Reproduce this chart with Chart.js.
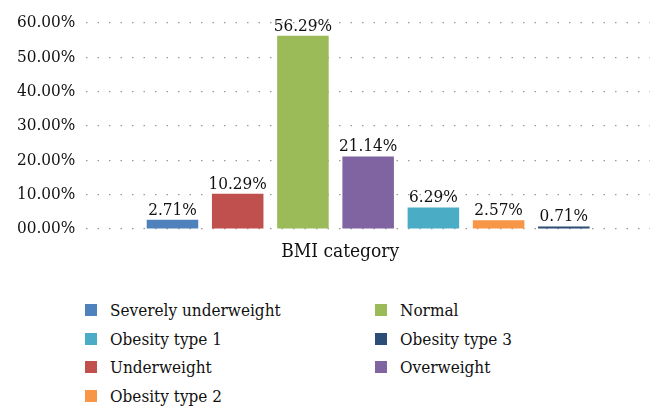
<!DOCTYPE html>
<html>
<head>
<meta charset="utf-8">
<script src="https://cdn.jsdelivr.net/npm/chart.js@4/dist/chart.umd.min.js"></script>
<style>
    body { margin: 0; background: #fff; }
    #wrap { position: relative; width: 656px; height: 420px; }
    #chartBox { position: absolute; left: 0; top: 0; width: 656px; height: 280px; }
    #legend {
        position: absolute; left: 85px; top: 299px;
        display: grid; grid-template-columns: 290px 250px; row-gap: 6px;
        font-family: "DejaVu Serif Condensed", "DejaVu Serif", serif; font-size: 17px; color: #111;
    }
    .item { display: flex; align-items: center; height: 22.5px; }
    .box { width: 12px; height: 12px; margin-right: 13px; }
</style>
</head>
<body>
<div id="wrap">
    <div id="chartBox"><canvas id="bmiChart"></canvas></div>
    <div id="legend"></div>
</div>
<script>
    // datos
    const categories = ['BMI category'];
    const seriesNames = ['Severely underweight', 'Underweight', 'Normal', 'Overweight', 'Obesity type 1', 'Obesity type 2', 'Obesity type 3'];
    const seriesValues = [2.71, 10.29, 56.29, 21.14, 6.29, 2.57, 0.71];
    const seriesColors = ['#4f81bd', '#c0504d', '#9bbb59', '#8064a2', '#4bacc6', '#f79646', '#2c4d75'];
    const yTicks = [0, 10, 20, 30, 40, 50, 60];
    const legendOrder = ['Severely underweight', 'Normal', 'Obesity type 1', 'Obesity type 3', 'Underweight', 'Overweight', 'Obesity type 2'];

    const fontFam = '"DejaVu Serif Condensed", "DejaVu Serif", serif';
    const fmt = v => v.toFixed(2).padStart(5, '0') + '%';

    // etiquetas encima de las barras + titulo del eje x
    const valueLabels = {
        id: 'valueLabels',
        afterDatasetsDraw(chart) {
            const ctx = chart.ctx;
            const area = chart.chartArea;
            ctx.save();
            ctx.font = '17px ' + fontFam;
            ctx.fillStyle = '#111';
            ctx.textAlign = 'center';
            ctx.textBaseline = 'bottom';
            chart.data.datasets.forEach((ds, i) => {
                const bar = chart.getDatasetMeta(i).data[0];
                ctx.fillText(ds.data[0].toFixed(2) + '%', bar.x, bar.y - 1);
            });
            ctx.font = '19px ' + fontFam;
            ctx.textBaseline = 'middle';
            ctx.fillText(categories[0], (area.left + area.right) / 2 - 28, area.bottom + 23);
            ctx.restore();
        }
    };

    const datasets = seriesNames.map((name, i) => ({
        label: name,
        data: [seriesValues[i]],
        backgroundColor: seriesColors[i],
        borderWidth: 0,
        categoryPercentage: 0.81,
        barPercentage: 0.79
    }));

    new Chart(document.getElementById('bmiChart'), {
        type: 'bar',
        data: { labels: categories, datasets: datasets },
        plugins: [valueLabels],
        options: {
            responsive: true,
            maintainAspectRatio: false,
            animation: false,
            layout: { padding: { top: 23, right: 6, bottom: 43, left: 6 } },
            plugins: {
                legend: { display: false },
                tooltip: { enabled: false }
            },
            scales: {
                x: {
                    ticks: { display: false },
                    grid: { display: false },
                    border: { display: false }
                },
                y: {
                    min: 0,
                    max: 60,
                    afterBuildTicks: axis => { axis.ticks = yTicks.map(v => ({ value: v })); },
                    ticks: {
                        color: '#111',
                        padding: 11,
                        font: { family: fontFam, size: 17 },
                        callback: v => fmt(v)
                    },
                    grid: {
                        color: '#9a9a9a',
                        lineWidth: 1.2,
                        tickLength: 0,
                        drawTicks: false
                    },
                    border: { display: false, dash: [1.5, 10] }
                }
            }
        }
    });

    // leyenda en dos columnas
    const legendEl = document.getElementById('legend');
    legendOrder.forEach(name => {
        const i = seriesNames.indexOf(name);
        const item = document.createElement('div');
        item.className = 'item';
        item.innerHTML = '<span class="box" style="background:' + seriesColors[i] + '"></span>' + name;
        legendEl.appendChild(item);
    });
</script>
</body>
</html>
